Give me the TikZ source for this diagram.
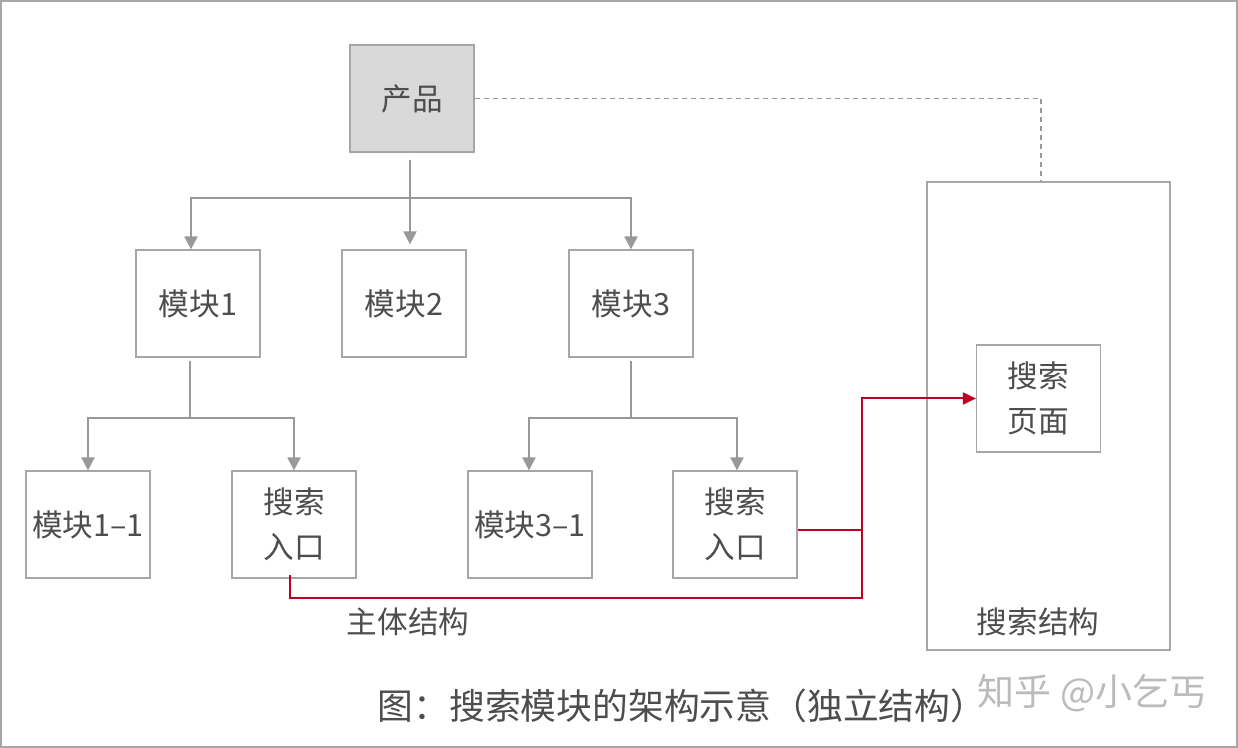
\documentclass[tikz,border=0pt]{standalone}
\usepackage{fontspec}
\setmainfont{Noto Sans CJK SC}
\usetikzlibrary{arrows.meta}

\definecolor{linegray}{HTML}{999999}
\definecolor{boxgray}{HTML}{A6A6A6}
\definecolor{fillgray}{HTML}{D9D9D9}
\definecolor{textgray}{HTML}{4D4D4D}
\definecolor{linkred}{HTML}{C00022}
\definecolor{markgray}{HTML}{BBBBBB}

\tikzset{
  modbox/.style={draw=boxgray, line width=0.6pt, minimum width=62pt, minimum height=53.5pt,
    inner sep=0pt, align=center, text=textgray, font=\fontsize{15.3}{22.5}\selectfont},
  treeline/.style={draw=linegray, line width=1pt},
  treearrow/.style={treeline, -{Triangle[length=6.5pt,width=6.5pt]}},
  redline/.style={draw=linkred, line width=1pt},
  redarrow/.style={redline, -{Triangle[length=6.5pt,width=6pt]}},
  dashline/.style={draw=linegray, line width=0.7pt, dash pattern=on 2.5pt off 2pt},
  plaintext/.style={text=textgray, inner sep=0pt, font=\fontsize{15.3}{18}\selectfont}
}

\begin{document}
\begin{tikzpicture}[x=0.5pt, y=-0.5pt]
  \useasboundingbox (0,0) rectangle (1238,748);
  \draw[boxgray, line width=1pt] (1,1) rectangle (1237,747);

  % main structure
  \node[modbox, fill=fillgray] (prod) at (412,98.5) {产品};
  \node[modbox] (m1) at (198,303.5) {模块1};
  \node[modbox] (m2) at (404,303.5) {模块2};
  \node[modbox] (m3) at (631,303.5) {模块3};
  \node[modbox] (m11) at (88,524.5) {模块1–1};
  \node[modbox] (s1) at (294,524.5) {搜索\\入口};
  \node[modbox] (m31) at (530,524.5) {模块3–1};
  \node[modbox] (s3) at (735,524.5) {搜索\\入口};
  \node[plaintext] (mainlabel) at (408,622) {主体结构};

  % search structure
  \node[draw=boxgray, line width=0.6pt, minimum width=121.5pt, minimum height=234pt] (search) at (1048.5,416) {};
  \node[modbox] (page) at (1038.5,398.5) {搜索\\页面};
  \node[plaintext] (searchlabel) at (1038,622) {搜索结构};

  \coordinate (bus0) at (410,198);
  \coordinate (bus1) at (190,418);
  \coordinate (bus3) at (631,418);
  \coordinate (join) at (862,598);

  \draw[treeline] ([xshift=-1pt,yshift=-3.5pt]prod.south) -- (bus0);
  \draw[treearrow] (bus0) -| ([xshift=-3.5pt]m1.north);
  \draw[treearrow] (bus0) -- ([xshift=3pt,yshift=2.5pt]m2.north);
  \draw[treearrow] (bus0) -| (m3.north);

  \draw[treeline] ([xshift=-4pt,yshift=-1.5pt]m1.south) -- (bus1);
  \draw[treearrow] (bus1) -| (m11.north);
  \draw[treearrow] (bus1) -| (s1.north);

  \draw[treeline] ([yshift=-1.5pt]m3.south) -- (bus3);
  \draw[treearrow] (bus3) -| ([xshift=-0.5pt]m31.north);
  \draw[treearrow] (bus3) -| ([xshift=1pt]s3.north);

  \draw[dashline] (prod.east) -| ([xshift=-3.75pt]search.north);

  \draw[redarrow] ([xshift=-2pt,yshift=2pt]s1.south) |- (join) |- (page.west);
  \draw[redline] ([yshift=-3pt]s3.east) -- ([yshift=-3pt]s3.east -| join);

  \node[plaintext, font=\fontsize{17.9}{20}\selectfont] (caption) at (682,706) {图：搜索模块的架构示意（独立结构）};
  \node[plaintext, text=markgray, font=\fontsize{18.5}{20}\selectfont] (mark) at (1092,693) {知乎 @小乞丐};
\end{tikzpicture}
\end{document}
